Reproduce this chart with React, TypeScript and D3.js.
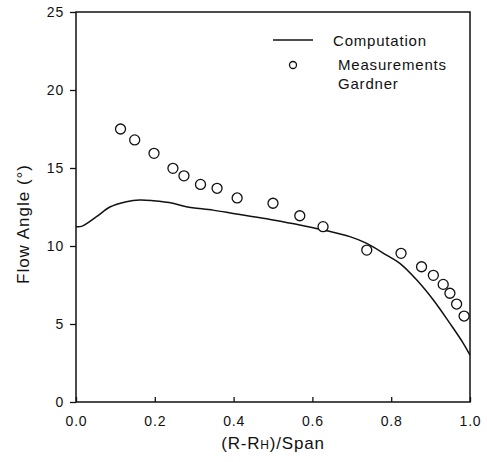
import React, { useEffect, useRef } from "react";
import * as d3 from "d3";

const WIDTH = 487;
const HEIGHT = 462;
const M = { left: 76, right: 17, top: 12, bottom: 60 };

// Computation curve
const compX = [0, 0.014, 0.052, 0.086, 0.128, 0.162, 0.196, 0.246, 0.28, 0.348, 0.399, 0.45, 0.5, 0.568, 0.627, 0.695, 0.738, 0.788, 0.822, 0.865, 0.907, 0.949, 0.983, 1.0];
const compY = [11.24, 11.26, 11.88, 12.5, 12.84, 12.95, 12.9, 12.74, 12.52, 12.3, 12.09, 11.88, 11.67, 11.35, 11.03, 10.6, 10.17, 9.42, 8.89, 7.82, 6.54, 5.04, 3.76, 3.0];

// Measurements (Gardner)
const measX = [0.113, 0.149, 0.198, 0.246, 0.274, 0.316, 0.358, 0.409, 0.5, 0.568, 0.627, 0.738, 0.825, 0.877, 0.907, 0.932, 0.949, 0.966, 0.985];
const measY = [17.5, 16.8, 15.94, 14.98, 14.5, 13.95, 13.7, 13.08, 12.74, 11.94, 11.24, 9.74, 9.53, 8.67, 8.12, 7.54, 6.97, 6.28, 5.51];

const xTicks = [0, 0.2, 0.4, 0.6, 0.8, 1.0];
const yTicks = [0, 5, 10, 15, 20, 25];

export default function App() {
  const ref = useRef<SVGSVGElement>(null);

  useEffect(() => {
    const svg = d3.select(ref.current);
    svg.selectAll("*").remove();
    const font = "'Liberation Sans', Arial, sans-serif";

    const x = d3.scaleLinear().domain([0, 1]).range([M.left, WIDTH - M.right]);
    const y = d3.scaleLinear().domain([0, 25]).range([HEIGHT - M.bottom, M.top]);

    // frame
    svg
      .append("rect")
      .attr("x", x(0))
      .attr("y", y(25))
      .attr("width", x(1) - x(0))
      .attr("height", y(0) - y(25))
      .attr("fill", "none")
      .attr("stroke", "#111")
      .attr("stroke-width", 1.5);

    const xAxis = svg
      .append("g")
      .attr("transform", `translate(0,${y(0)})`)
      .call(
        d3
          .axisBottom(x)
          .tickValues(xTicks)
          .tickSizeInner(-5)
          .tickSizeOuter(0)
          .tickPadding(14)
          .tickFormat(d3.format(".1f"))
      );
    xAxis.select(".domain").remove();

    const yAxis = svg
      .append("g")
      .attr("transform", `translate(${x(0)},0)`)
      .call(d3.axisLeft(y).tickValues(yTicks).tickSizeInner(6).tickSizeOuter(0).tickPadding(6));
    yAxis.select(".domain").remove();

    svg
      .selectAll(".tick text")
      .attr("font-family", font)
      .attr("font-size", 14)
      .attr("letter-spacing", 0.8)
      .attr("fill", "#111");
    svg.selectAll(".tick line").attr("stroke", "#111").attr("stroke-width", 1.3);

    // computation line
    const line = d3
      .line<number>()
      .x((d, i) => x(compX[i]))
      .y((d) => y(d))
      .curve(d3.curveCatmullRom);
    svg
      .append("path")
      .attr("d", line(compY))
      .attr("fill", "none")
      .attr("stroke", "#111")
      .attr("stroke-width", 1.5);

    // measurements
    svg
      .append("g")
      .selectAll("circle")
      .data(measY)
      .enter()
      .append("circle")
      .attr("cx", (d, i) => x(measX[i]))
      .attr("cy", (d) => y(d))
      .attr("r", 5)
      .attr("fill", "white")
      .attr("stroke", "#111")
      .attr("stroke-width", 1.3);

    // legend
    const lg = svg
      .append("g")
      .attr("font-family", font)
      .attr("font-size", 15)
      .attr("letter-spacing", 0.8)
      .attr("fill", "#111");
    lg.append("line")
      .attr("x1", 273)
      .attr("x2", 313)
      .attr("y1", 40)
      .attr("y2", 40)
      .attr("stroke", "#111")
      .attr("stroke-width", 1.5);
    lg.append("text").attr("x", 333).attr("y", 46).text("Computation");
    lg.append("circle")
      .attr("cx", 293)
      .attr("cy", 65)
      .attr("r", 3.5)
      .attr("fill", "none")
      .attr("stroke", "#111")
      .attr("stroke-width", 1.3);
    lg.append("text").attr("x", 338).attr("y", 70).text("Measurements");
    lg.append("text").attr("x", 338).attr("y", 89).text("Gardner");

    // axis titles
    const xt = svg
      .append("text")
      .attr("x", (x(0) + x(1)) / 2)
      .attr("y", 449)
      .attr("text-anchor", "middle")
      .attr("font-family", font)
      .attr("font-size", 17)
      .attr("letter-spacing", 0.8)
      .attr("fill", "#111");
    xt.append("tspan").text("(R-R");
    xt.append("tspan").attr("font-size", 12).text("H");
    xt.append("tspan").text(")/Span");

    svg
      .append("text")
      .attr("transform", `translate(29,224) rotate(-90)`)
      .attr("text-anchor", "middle")
      .attr("font-family", font)
      .attr("font-size", 17)
      .attr("letter-spacing", 1)
      .attr("fill", "#111")
      .text("Flow Angle (°)");
  }, []);

  return (
    <svg
      ref={ref}
      width={WIDTH}
      height={HEIGHT}
      style={{ position: "absolute", left: 0, top: 0, background: "white" }}
    />
  );
}
